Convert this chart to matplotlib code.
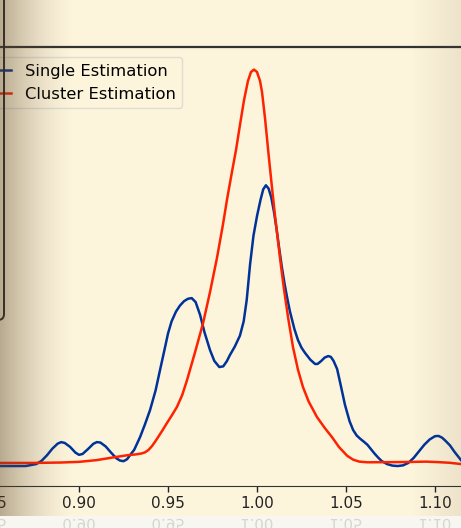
import matplotlib.pyplot as plt
import numpy as np
from matplotlib.patches import FancyBboxPatch, Rectangle, PathPatch
from matplotlib.textpath import TextPath
from matplotlib.font_manager import FontProperties
from matplotlib.transforms import Affine2D

# density curves
single_x = [0.856, 0.870, 0.876, 0.879, 0.882, 0.885, 0.888, 0.890, 0.892, 0.895,
            0.898, 0.900, 0.902, 0.905, 0.908, 0.910, 0.912, 0.915, 0.918, 0.921,
            0.923, 0.925, 0.927, 0.9287, 0.931, 0.9343, 0.937, 0.9399, 0.943, 0.9455,
            0.948, 0.950, 0.952, 0.9545, 0.9567, 0.959, 0.9612, 0.9633, 0.9655, 0.968,
            0.9705, 0.9736, 0.976, 0.9788, 0.981, 0.983, 0.9848, 0.9875, 0.9904, 0.9925,
            0.9942, 0.9961, 0.998, 1.000, 1.002, 1.0035, 1.005, 1.0065, 1.008, 1.0095,
            1.011, 1.0125, 1.014, 1.0155, 1.017, 1.0185, 1.021, 1.023, 1.025, 1.027,
            1.030, 1.0326, 1.034, 1.036, 1.038, 1.040, 1.0415, 1.043, 1.045, 1.047,
            1.0494, 1.052, 1.054, 1.056, 1.058, 1.060, 1.062, 1.064, 1.066, 1.068,
            1.070, 1.073, 1.076, 1.079, 1.082, 1.085, 1.088, 1.091, 1.094, 1.097,
            1.100, 1.102, 1.104, 1.106, 1.1084, 1.111, 1.1146]
single_y = [-0.09, -0.09, 0.00, 0.15, 0.40, 0.70, 0.93, 1.00, 0.96, 0.78,
            0.52, 0.42, 0.46, 0.68, 0.92, 1.00, 0.98, 0.80, 0.52, 0.26,
            0.16, 0.13, 0.22, 0.41, 0.65, 1.23, 1.80, 2.46, 3.35, 4.28,
            5.20, 5.95, 6.50, 6.95, 7.22, 7.42, 7.53, 7.56, 7.38, 6.80,
            6.00, 5.19, 4.70, 4.42, 4.45, 4.68, 4.97, 5.35, 5.85, 6.50,
            7.47, 9.10, 10.40, 11.30, 12.05, 12.52, 12.70, 12.55, 12.15, 11.50,
            10.70, 9.80, 8.95, 8.20, 7.55, 6.95, 6.15, 5.65, 5.30, 5.06,
            4.75, 4.56, 4.56, 4.69, 4.85, 4.92, 4.88, 4.70, 4.33, 3.60,
            2.70, 1.95, 1.55, 1.30, 1.15, 1.02, 0.88, 0.68, 0.48, 0.30,
            0.14, 0.00, -0.07, -0.09, -0.06, 0.05, 0.28, 0.58, 0.88, 1.12,
            1.27, 1.28, 1.20, 1.05, 0.85, 0.55, 0.18]

cluster_x = [0.856, 0.874, 0.890, 0.900, 0.910, 0.919, 0.927, 0.932, 0.935, 0.937,
             0.939, 0.941, 0.943, 0.945, 0.947, 0.9494, 0.952, 0.955, 0.958, 0.9607,
             0.9652, 0.9697, 0.9736, 0.9775, 0.9809, 0.9831, 0.9859, 0.9882, 0.9904, 0.9927,
             0.9949, 0.9966, 0.9983, 1.0000, 1.0017, 1.0028, 1.0045, 1.0065, 1.0084, 1.010,
             1.0118, 1.0135, 1.0151, 1.0175, 1.0202, 1.023, 1.0258, 1.029, 1.0337, 1.038,
             1.0421, 1.046, 1.0506, 1.054, 1.0575, 1.062, 1.082, 1.095, 1.101, 1.108,
             1.1146]
cluster_y = [0.05, 0.05, 0.07, 0.10, 0.18, 0.30, 0.40, 0.44, 0.48, 0.53,
             0.64, 0.82, 1.05, 1.30, 1.55, 1.87, 2.20, 2.60, 3.15, 3.83,
             5.10, 6.42, 7.84, 9.39, 10.93, 12.03, 13.30, 14.31, 15.44, 16.58,
             17.45, 17.86, 17.97, 17.86, 17.45, 16.95, 15.75, 14.10, 12.60, 11.40,
             10.15, 9.00, 8.00, 6.65, 5.33, 4.30, 3.51, 2.85, 2.14, 1.65,
             1.23, 0.78, 0.38, 0.20, 0.11, 0.08, 0.09, 0.11, 0.09, 0.06,
             0.0]

xticks = [0.85, 0.90, 0.95, 1.00, 1.05, 1.10]
tick_labels = ['0.85', '0.90', '0.95', '1.00', '1.05', '1.10']

W, H = 461, 528
bg = '#fdf4dc'
fig = plt.figure(figsize=(W / 100, H / 100), dpi=100, facecolor=bg)

ax = fig.add_axes([0, 1 - 486 / H, 1, (486 - 47) / H], facecolor=bg)
ax.plot(single_x, single_y, color='#003399', lw=1.8, label='Single Estimation')
ax.plot(cluster_x, cluster_y, color='#ff2200', lw=1.8, label='Cluster Estimation')
ax.set_xticks(xticks)
ax.set_xticklabels(tick_labels, fontsize=11)
ax.set_xlim(0.8556, 1.1146)
ax.set_ylim(-1.0, 19.0)
ax.set_yticks([])
ax.spines['left'].set_visible(False)
ax.spines['right'].set_visible(False)
ax.spines['top'].set_linewidth(1.6)
ax.spines['top'].set_color('#333333')
ax.spines['bottom'].set_color('#333333')
ax.tick_params(axis='x', length=4, width=1, colors='#222222')

# the 0.85 label sits just past the left edge, only its tail shows
ax.annotate(tick_labels[0], xy=(xticks[0], 0), xycoords=('data', 'axes fraction'),
            xytext=(0, -7.5), textcoords='offset points', ha='center', va='top',
            fontsize=11, color='#222222', annotation_clip=False)

ax.legend(loc='upper right', bbox_to_anchor=(182 / W, 1 - 57 / H),
          bbox_transform=fig.transFigure, borderaxespad=0, fontsize=11.8,
          framealpha=0.6, facecolor=bg, edgecolor='#cccccc')

# overlay for framing decorations
over = fig.add_axes([0, 0, 1, 1], zorder=10)
over.axis('off')
over.patch.set_alpha(0)

# whitish strip at the bottom with a faded mirrored copy of the labels
over.add_patch(Rectangle((0, 516), W, 12, facecolor='#f7f6f1', edgecolor='none'))
fp = FontProperties(family='DejaVu Sans')
for t, lab in zip(xticks, tick_labels):
    px = ax.transData.transform((t, 0))[0]
    tp = TextPath((0, 0), lab, size=15, prop=fp)
    bb = tp.get_extents()
    tr = Affine2D().translate(-bb.width / 2 - bb.x0, 0).translate(px, 519)
    over.add_patch(PathPatch(tr.transform_path(tp), facecolor='#d6d6d2',
                             edgecolor='none', clip_on=True))

# rounded panel edge on the left
over.add_patch(FancyBboxPatch((-60, -20), 64, 340,
                              boxstyle='round,pad=0,rounding_size=6',
                              facecolor='none', edgecolor='#222222', lw=1.4))

# shadow gradients at the sides
grad = np.zeros((2, W, 4))
xs = np.arange(W)
left = 0.42 * np.clip(1 - xs / 75.0, 0, 1) ** 1.6
right = 0.10 * np.clip((xs - 410) / 51.0, 0, 1)
grad[..., 0] = 0.35
grad[..., 1] = 0.27
grad[..., 2] = 0.15
grad[..., 3] = left + right
over.imshow(grad, extent=(0, W, 516, 0), aspect='auto', zorder=5,
            interpolation='bilinear')
over.set_xlim(0, W)
over.set_ylim(H, 0)

fig.savefig('out.png', dpi=100, facecolor=bg)
